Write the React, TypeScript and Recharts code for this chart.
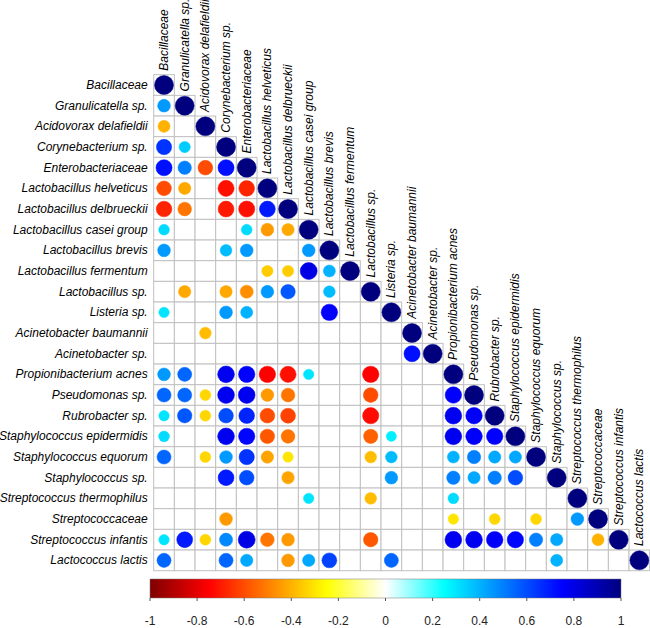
import React from 'react';
import {
  ScatterChart,
  Scatter,
  XAxis,
  YAxis,
  ComposedChart,
  ReferenceArea,
} from 'recharts';

const taxa = [
  'Bacillaceae',
  'Granulicatella sp.',
  'Acidovorax delafieldii',
  'Corynebacterium sp.',
  'Enterobacteriaceae',
  'Lactobacillus helveticus',
  'Lactobacillus delbrueckii',
  'Lactobacillus casei group',
  'Lactobacillus brevis',
  'Lactobacillus fermentum',
  'Lactobacillus sp.',
  'Listeria sp.',
  'Acinetobacter baumannii',
  'Acinetobacter sp.',
  'Propionibacterium acnes',
  'Pseudomonas sp.',
  'Rubrobacter sp.',
  'Staphylococcus epidermidis',
  'Staphylococcus equorum',
  'Staphylococcus sp.',
  'Streptococcus thermophilus',
  'Streptococcaceae',
  'Streptococcus infantis',
  'Lactococcus lactis',
];

// lower triangle, one row per taxon; 0 = no significant correlation (blank cell)
const corrRows: number[][] = [
  [1],
  [0.45, 1],
  [-0.4, 0, 1],
  [0.65, 0.35, 0, 1],
  [0.72, 0.5, -0.6, 0.72, 1],
  [-0.6, -0.42, 0, -0.72, -0.68, 1],
  [-0.68, -0.52, 0, -0.7, -0.72, 0.7, 1],
  [0.32, 0, 0, 0, 0.32, -0.45, -0.42, 1],
  [0.45, 0, 0, 0.38, 0.45, 0, 0, 0.45, 1],
  [0, 0, 0, 0, 0, -0.35, -0.35, 0.8, 0.4, 1],
  [0, -0.42, 0, -0.42, -0.47, 0.45, 0.58, 0, 0.38, 0, 1],
  [0.3, 0, 0, 0.45, 0.4, 0, 0, 0, 0.75, 0, 0, 1],
  [0, 0, -0.38, 0, 0, 0, 0, 0, 0, 0, 0, 0, 1],
  [0, 0, 0, 0, 0, 0, 0, 0, 0, 0, 0, 0, 0.72, 1],
  [0.45, 0.55, 0, 0.78, 0.75, -0.75, -0.72, 0.3, 0, 0, -0.75, 0, 0, 0, 1],
  [0.55, 0.55, -0.33, 0.78, 0.78, -0.45, -0.52, 0, 0, 0, -0.6, 0, 0, 0, 0.75, 1],
  [0.3, 0.58, -0.33, 0.6, 0.68, -0.6, -0.62, 0, 0, 0, -0.73, 0, 0, 0, 0.78, 0.76, 1],
  [0.32, 0, 0, 0.78, 0.74, -0.58, -0.52, 0, 0, 0, -0.56, 0.28, 0, 0, 0.78, 0.76, 0.75, 1],
  [0.55, 0, -0.33, 0.45, 0.65, -0.43, -0.3, 0, 0, 0, -0.38, 0.38, 0, 0, 0.4, 0.5, 0.42, 0.42, 1],
  [0, 0, 0, 0.7, 0.6, 0, -0.43, 0, 0, 0, 0, 0.45, 0, 0, 0.5, 0.42, 0.5, 0.6, 0, 1],
  [0, 0, 0, 0, 0, 0, 0, 0.3, 0, 0, -0.38, 0, 0, 0, 0.32, 0, 0, 0, 0, 0, 1],
  [0, 0, 0, -0.45, 0, 0, 0, 0, 0, 0, 0, 0, 0, 0, -0.3, 0, -0.33, 0, -0.33, 0, 0.45, 1],
  [0.3, 0.7, -0.33, 0.48, 0.8, -0.52, -0.45, 0, 0, 0, -0.58, 0, 0, 0, 0.78, 0.78, 0.76, 0.74, 0.5, 0.42, 0, -0.4, 1],
  [0.55, 0, 0, 0.55, 0.42, 0, -0.45, 0.42, 0.62, 0, 0, 0.55, 0, 0, 0, 0, 0, 0, 0, 0.4, 0, 0, 0, 1],
];

const paletteColors = ['#7F0000', '#FF0000', '#FF7F00', '#FFFF00', '#FFFFFF', '#00FFFF', '#007FFF', '#0000FF', '#00007F'];
const colorbarTicks = [-1, -0.8, -0.6, -0.4, -0.2, 0, 0.2, 0.4, 0.6, 0.8, 1];

const FONT = "'Liberation Sans', Arial, sans-serif";
const CELL = 496 / 24;

const hexToRgb = (h: string) => [1, 3, 5].map((i) => parseInt(h.slice(i, i + 2), 16));

const corrColor = (v: number) => {
  const pos = ((v + 1) / 2) * (paletteColors.length - 1);
  const i = Math.min(Math.floor(pos), paletteColors.length - 2);
  const t = pos - i;
  const a = hexToRgb(paletteColors[i]);
  const b = hexToRgb(paletteColors[i + 1]);
  const c = a.map((x, k) => Math.round(x + (b[k] - x) * t));
  return `rgb(${c[0]},${c[1]},${c[2]})`;
};

const cells = corrRows.flatMap((row, i) => row.map((_, j) => ({ x: j, y: i })));
const dots = corrRows.flatMap((row, i) =>
  row.map((r, j) => ({ x: j, y: i, r })).filter((d) => d.r !== 0)
);
const diag = taxa.map((name, i) => ({ x: i, y: i, name }));

const CellShape = (props: any) => (
  <rect
    x={props.cx - CELL / 2}
    y={props.cy - CELL / 2}
    width={CELL}
    height={CELL}
    fill="#fff"
    stroke="#c0c0c0"
    strokeWidth={1}
  />
);

const DotShape = (props: any) => {
  const r = props.payload.r;
  const col = corrColor(r);
  return (
    <circle
      cx={props.cx}
      cy={props.cy}
      r={0.46 * CELL * Math.sqrt(Math.abs(r))}
      fill={col}
      stroke={col}
      strokeWidth={0.5}
    />
  );
};

const ColLabel = (props: any) => {
  const x = props.cx + 4;
  const y = props.cy - CELL / 2 - 4;
  return (
    <text
      x={x}
      y={y}
      transform={`rotate(-90, ${x}, ${y})`}
      fontSize={12}
      fontStyle="italic"
      fontFamily={FONT}
      fill="#000"
      textAnchor="start"
    >
      {props.payload.name}
    </text>
  );
};

const RowLabel = (props: any) => (
  <text
    x={props.x}
    y={props.y + 4}
    fontSize={12}
    fontStyle="italic"
    fontFamily={FONT}
    fill="#000"
    textAnchor="end"
  >
    {taxa[props.payload.value]}
  </text>
);

export default function App() {
  return (
    <div style={{ position: 'absolute', left: 0, top: 0, width: 650, height: 628, background: '#fff', fontFamily: FONT }}>
      <ScatterChart width={650} height={572} margin={{ top: 74.7, right: 0.3, bottom: 1.3, left: 3.7 }}>
        <XAxis type="number" dataKey="x" domain={[-0.5, 23.5]} hide />
        <YAxis
          type="number"
          dataKey="y"
          domain={[-0.5, 23.5]}
          reversed
          width={150}
          ticks={taxa.map((_, i) => i)}
          interval={0}
          axisLine={false}
          tickLine={false}
          tickSize={4}
          tickMargin={2}
          tick={RowLabel}
        />
        <Scatter data={cells} shape={CellShape} isAnimationActive={false} />
        <Scatter data={dots} shape={DotShape} isAnimationActive={false} />
        <Scatter data={diag} shape={ColLabel} isAnimationActive={false} />
      </ScatterChart>

      <div style={{ position: 'absolute', left: 0, top: 570 }}>
        <ComposedChart
          width={650}
          height={58}
          data={[{ x: -1, y: 0 }, { x: 1, y: 1 }]}
          margin={{ top: 9, right: 29, bottom: 0, left: 150 }}
        >
          <defs>
            <linearGradient id="cbar" x1="0" y1="0" x2="1" y2="0">
              {paletteColors.map((c, i) => (
                <stop key={c} offset={`${(i / (paletteColors.length - 1)) * 100}%`} stopColor={c} />
              ))}
            </linearGradient>
          </defs>
          <XAxis
            type="number"
            dataKey="x"
            domain={[-1, 1]}
            ticks={colorbarTicks}
            interval={0}
            height={30}
            axisLine={false}
            tickSize={3}
            tickMargin={15}
            stroke="#555"
            tick={{ fontSize: 12, fill: '#222', fontFamily: FONT }}
          />
          <YAxis type="number" dataKey="y" domain={[0, 1]} hide />
          <ReferenceArea x1={-1} x2={1} y1={0} y2={1} fill="url(#cbar)" fillOpacity={1} stroke="#777" strokeWidth={0.5} />
        </ComposedChart>
      </div>
    </div>
  );
}
